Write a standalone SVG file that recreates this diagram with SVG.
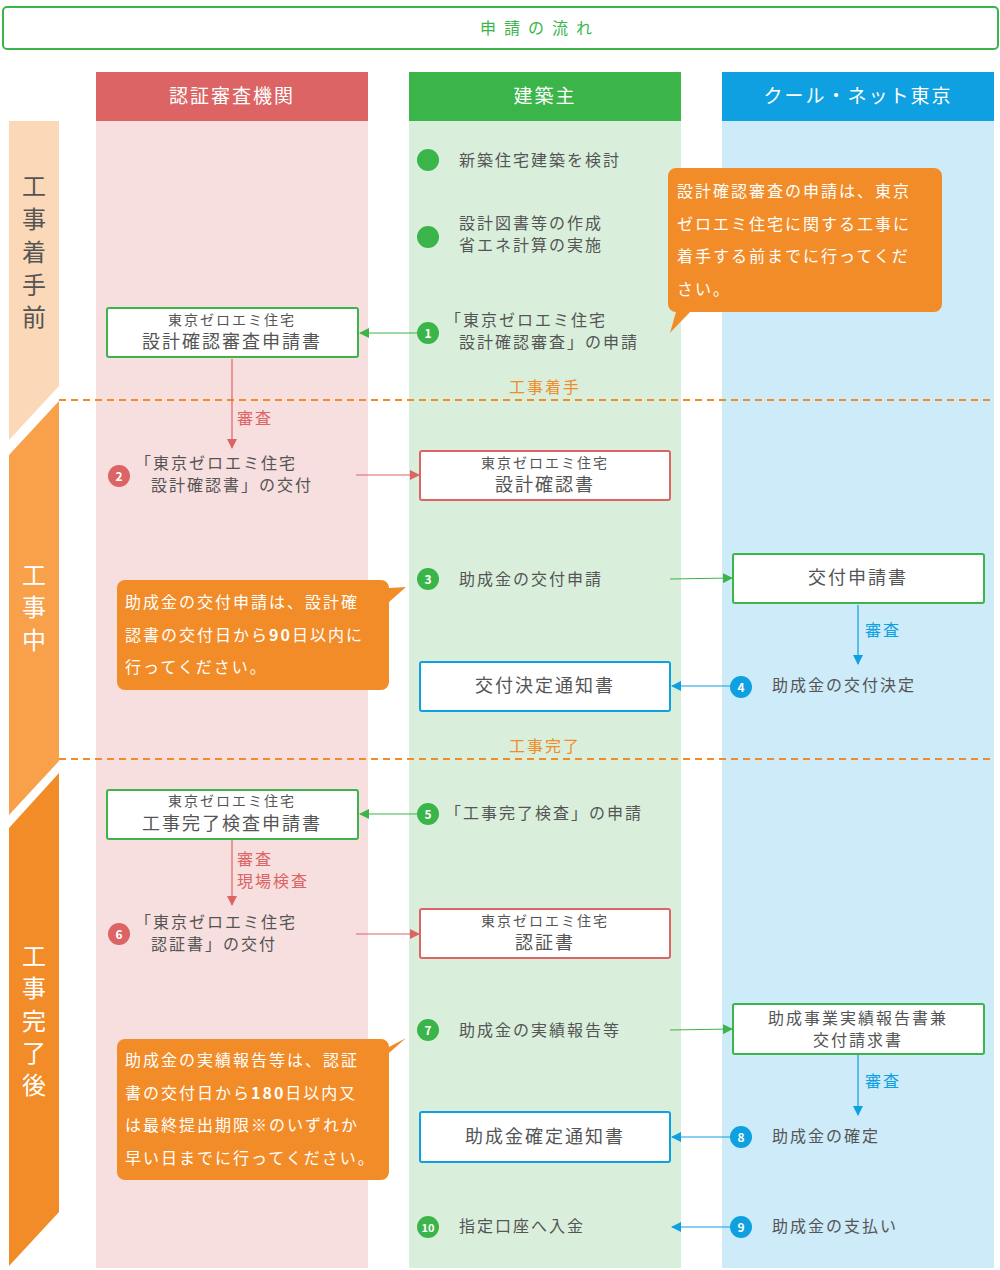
<svg xmlns="http://www.w3.org/2000/svg" width="1000" height="1270" viewBox="0 0 1000 1270">
<defs>
<style>
text{font-family:"Noto Sans CJK JP","Noto Sans",sans-serif;fill:#555;letter-spacing:2px}
.t{font-size:16px}
.s{font-size:14px}
.h{font-size:19px;fill:#fff;text-anchor:middle}
.w{font-size:16px;fill:#fff}
.n{font-size:12px;fill:#fff;text-anchor:middle;font-weight:bold;letter-spacing:0}
.box{fill:#fff;stroke-width:2}
.dash{stroke:#F28C28;stroke-width:2;stroke-dasharray:7,5;fill:none}
.bar{font-size:24px;text-anchor:middle;letter-spacing:0}
</style>
<marker id="ag" viewBox="0 0 10 10" refX="9" refY="5" markerWidth="10" markerHeight="10" markerUnits="userSpaceOnUse" orient="auto"><path d="M0,0L10,5L0,10z" fill="#3BB54A"/></marker>
<marker id="ar" viewBox="0 0 10 10" refX="9" refY="5" markerWidth="10" markerHeight="10" markerUnits="userSpaceOnUse" orient="auto"><path d="M0,0L10,5L0,10z" fill="#DC6464"/></marker>
<marker id="ab" viewBox="0 0 10 10" refX="9" refY="5" markerWidth="10" markerHeight="10" markerUnits="userSpaceOnUse" orient="auto"><path d="M0,0L10,5L0,10z" fill="#0EA0E0"/></marker>
</defs>
<rect x="0" y="0" width="1000" height="1270" fill="#fff"/>
<g id="title"><rect x="3" y="7" width="995" height="42" rx="4" fill="#fff" stroke="#3BB54A" stroke-width="2"/><text x="540" y="34" class="t" text-anchor="middle" style="fill:#3BB54A;letter-spacing:8px">申請の流れ</text></g>
<g id="lanes">
<rect x="96" y="121" width="272" height="1147" fill="#F7DEDF"/>
<rect x="96" y="72" width="272" height="49" fill="#DC6464"/><text x="232" y="103" class="h">認証審査機関</text>
<rect x="409" y="121" width="272" height="1147" fill="#D9EFDC"/>
<rect x="409" y="72" width="272" height="49" fill="#3BB54A"/><text x="545" y="103" class="h">建築主</text>
<rect x="722" y="121" width="272" height="1147" fill="#CDEBF9"/>
<rect x="722" y="72" width="272" height="49" fill="#0EA0E0"/><text x="858" y="103" class="h">クール・ネット東京</text>
</g>
<g id="phases">
<polygon points="9,121 59,121 59,386 9,440" fill="#FBD9B8"/>
<text class="bar" x="34" y="195">工</text><text class="bar" x="34" y="228">事</text><text class="bar" x="34" y="261">着</text><text class="bar" x="34" y="294">手</text><text class="bar" x="34" y="326">前</text>
<polygon points="9,455 59,401 59,761 9,815" fill="#F8A04A"/>
<text class="bar" x="34" y="584" style="fill:#fff">工</text><text class="bar" x="34" y="616" style="fill:#fff">事</text><text class="bar" x="34" y="649" style="fill:#fff">中</text>
<polygon points="9,828 59,773 59,1212 9,1266" fill="#F28C28"/>
<text class="bar" x="34" y="965" style="fill:#fff">工</text><text class="bar" x="34" y="997" style="fill:#fff">事</text><text class="bar" x="34" y="1030" style="fill:#fff">完</text><text class="bar" x="34" y="1062" style="fill:#fff">了</text><text class="bar" x="34" y="1094" style="fill:#fff">後</text>
<line class="dash" x1="59" y1="400" x2="994" y2="400"/>
<line class="dash" x1="59" y1="759" x2="994" y2="759"/>
<text x="545" y="393" class="t" text-anchor="middle" style="fill:#F28C28">工事着手</text>
<text x="545" y="752" class="t" text-anchor="middle" style="fill:#F28C28">工事完了</text>
</g>
<g id="connectors" fill="none" stroke-width="1.2">
<line x1="418" y1="333" x2="360" y2="333" stroke="#3BB54A" marker-end="url(#ag)"/>
<line x1="232" y1="359" x2="232" y2="448" stroke="#DC6464" marker-end="url(#ar)"/>
<line x1="356" y1="475" x2="419" y2="475" stroke="#DC6464" marker-end="url(#ar)"/>
<line x1="670" y1="579" x2="732" y2="578" stroke="#3BB54A" marker-end="url(#ag)"/>
<line x1="858" y1="605" x2="858" y2="664" stroke="#0EA0E0" marker-end="url(#ab)"/>
<line x1="730" y1="686" x2="672" y2="686" stroke="#0EA0E0" marker-end="url(#ab)"/>
<line x1="418" y1="814" x2="360" y2="814" stroke="#3BB54A" marker-end="url(#ag)"/>
<line x1="232" y1="840" x2="232" y2="905" stroke="#DC6464" marker-end="url(#ar)"/>
<line x1="356" y1="934" x2="419" y2="934" stroke="#DC6464" marker-end="url(#ar)"/>
<line x1="670" y1="1030" x2="732" y2="1029" stroke="#3BB54A" marker-end="url(#ag)"/>
<line x1="858" y1="1055" x2="858" y2="1115" stroke="#0EA0E0" marker-end="url(#ab)"/>
<line x1="730" y1="1137" x2="672" y2="1137" stroke="#0EA0E0" marker-end="url(#ab)"/>
<line x1="730" y1="1227" x2="672" y2="1227" stroke="#0EA0E0" marker-end="url(#ab)"/>
<text x="237" y="424" class="t" style="fill:#DC6464;stroke:none">審査</text>
<text x="237" y="865" class="t" style="fill:#DC6464;stroke:none">審査</text>
<text x="237" y="887" class="t" style="fill:#DC6464;stroke:none">現場検査</text>
<text x="865" y="636" class="t" style="fill:#0EA0E0;stroke:none">審査</text>
<text x="865" y="1087" class="t" style="fill:#0EA0E0;stroke:none">審査</text>
</g>
<g id="n-kento"><circle cx="428" cy="160" r="11" fill="#3BB54A"/><text x="459" y="166" class="t">新築住宅建築を検討</text></g>
<g id="n-sekkei"><circle cx="428" cy="237" r="11" fill="#3BB54A"/><text x="459" y="229" class="t">設計図書等の作成</text><text x="459" y="251" class="t">省エネ計算の実施</text></g>
<g id="n1"><circle cx="428" cy="333" r="11" fill="#3BB54A"/><text x="428" y="338" class="n">1</text><text x="445" y="326" class="t">「東京ゼロエミ住宅</text><text x="459" y="348" class="t">設計確認審査」の申請</text></g>
<g id="c1"><path d="M676,168H934a8,8 0 0 1 8,8V304a8,8 0 0 1 -8,8H690L670,333L676,312a8,8 0 0 1 -8,-8V176a8,8 0 0 1 8,-8z" fill="#F28C28"/>
<text x="677" y="197" class="w">設計確認審査の申請は、東京</text><text x="677" y="230" class="w">ゼロエミ住宅に関する工事に</text><text x="677" y="262" class="w">着手する前までに行ってくだ</text><text x="677" y="295" class="w">さい。</text></g>
<g id="b-shinsei"><rect x="107" y="308" width="251" height="49" rx="2" class="box" stroke="#3BB54A"/><text x="232" y="325" class="s" text-anchor="middle">東京ゼロエミ住宅</text><text x="232" y="348" class="t" text-anchor="middle" style="font-size:18px">設計確認審査申請書</text></g>
<g id="n2"><circle cx="119" cy="476" r="11" fill="#DC6464"/><text x="119" y="481" class="n">2</text><text x="135" y="469" class="t">「東京ゼロエミ住宅</text><text x="151" y="491" class="t">設計確認書」の交付</text></g>
<g id="b-kakunin"><rect x="420" y="451" width="250" height="49" rx="2" class="box" stroke="#DC6464"/><text x="545" y="468" class="s" text-anchor="middle">東京ゼロエミ住宅</text><text x="545" y="491" class="t" text-anchor="middle" style="font-size:18px">設計確認書</text></g>
<g id="n3"><circle cx="428" cy="579" r="11" fill="#3BB54A"/><text x="428" y="584" class="n">3</text><text x="459" y="585" class="t">助成金の交付申請</text></g>
<g id="b-koufu"><rect x="733" y="554" width="251" height="49" rx="2" class="box" stroke="#3BB54A"/><text x="858" y="584" class="t" text-anchor="middle" style="font-size:18px">交付申請書</text></g>
<g id="c2"><path d="M125,580H381a8,8 0 0 1 8,8L406,587L389,602V682a8,8 0 0 1 -8,8H125a8,8 0 0 1 -8,-8V588a8,8 0 0 1 8,-8z" fill="#F28C28"/>
<text x="125" y="608" class="w">助成金の交付申請は、設計確</text><text x="125" y="641" class="w">認書の交付日から<tspan style="font-weight:bold">90</tspan>日以内に</text><text x="125" y="673" class="w">行ってください。</text></g>
<g id="b-kettei"><rect x="420" y="662" width="250" height="49" rx="2" class="box" stroke="#0EA0E0"/><text x="545" y="692" class="t" text-anchor="middle" style="font-size:18px">交付決定通知書</text></g>
<g id="n4"><circle cx="741" cy="687" r="11" fill="#0EA0E0"/><text x="741" y="692" class="n">4</text><text x="772" y="691" class="t">助成金の交付決定</text></g>
<g id="b-kanryo"><rect x="107" y="790" width="251" height="49" rx="2" class="box" stroke="#3BB54A"/><text x="232" y="806" class="s" text-anchor="middle">東京ゼロエミ住宅</text><text x="232" y="830" class="t" text-anchor="middle" style="font-size:18px">工事完了検査申請書</text></g>
<g id="n5"><circle cx="428" cy="814" r="11" fill="#3BB54A"/><text x="428" y="819" class="n">5</text><text x="445" y="819" class="t">「工事完了検査」の申請</text></g>
<g id="n6"><circle cx="119" cy="934" r="11" fill="#DC6464"/><text x="119" y="939" class="n">6</text><text x="135" y="928" class="t">「東京ゼロエミ住宅</text><text x="151" y="950" class="t">認証書」の交付</text></g>
<g id="b-ninsho"><rect x="420" y="909" width="250" height="49" rx="2" class="box" stroke="#DC6464"/><text x="545" y="926" class="s" text-anchor="middle">東京ゼロエミ住宅</text><text x="545" y="949" class="t" text-anchor="middle" style="font-size:18px">認証書</text></g>
<g id="n7"><circle cx="428" cy="1030" r="11" fill="#3BB54A"/><text x="428" y="1035" class="n">7</text><text x="459" y="1036" class="t">助成金の実績報告等</text></g>
<g id="b-jisseki"><rect x="733" y="1004" width="251" height="50" rx="2" class="box" stroke="#3BB54A"/><text x="858" y="1024" class="t" text-anchor="middle">助成事業実績報告書兼</text><text x="858" y="1046" class="t" text-anchor="middle">交付請求書</text></g>
<g id="c3"><path d="M125,1039H381a8,8 0 0 1 8,8L406,1038L389,1053V1172a8,8 0 0 1 -8,8H125a8,8 0 0 1 -8,-8V1047a8,8 0 0 1 8,-8z" fill="#F28C28"/>
<text x="125" y="1066" class="w">助成金の実績報告等は、認証</text><text x="125" y="1099" class="w">書の交付日から<tspan style="font-weight:bold">180</tspan>日以内又</text><text x="125" y="1131" class="w">は最終提出期限※のいずれか</text><text x="125" y="1164" class="w">早い日までに行ってください。</text></g>
<g id="b-kakutei"><rect x="420" y="1112" width="250" height="50" rx="2" class="box" stroke="#0EA0E0"/><text x="545" y="1143" class="t" text-anchor="middle" style="font-size:18px">助成金確定通知書</text></g>
<g id="n8"><circle cx="741" cy="1137" r="11" fill="#0EA0E0"/><text x="741" y="1142" class="n">8</text><text x="772" y="1142" class="t">助成金の確定</text></g>
<g id="n9"><circle cx="741" cy="1227" r="11" fill="#0EA0E0"/><text x="741" y="1232" class="n">9</text><text x="772" y="1232" class="t">助成金の支払い</text></g>
<g id="n10"><circle cx="428" cy="1227" r="11" fill="#3BB54A"/><text x="428" y="1232" class="n" style="font-size:11px">10</text><text x="459" y="1232" class="t">指定口座へ入金</text></g>
</svg>
